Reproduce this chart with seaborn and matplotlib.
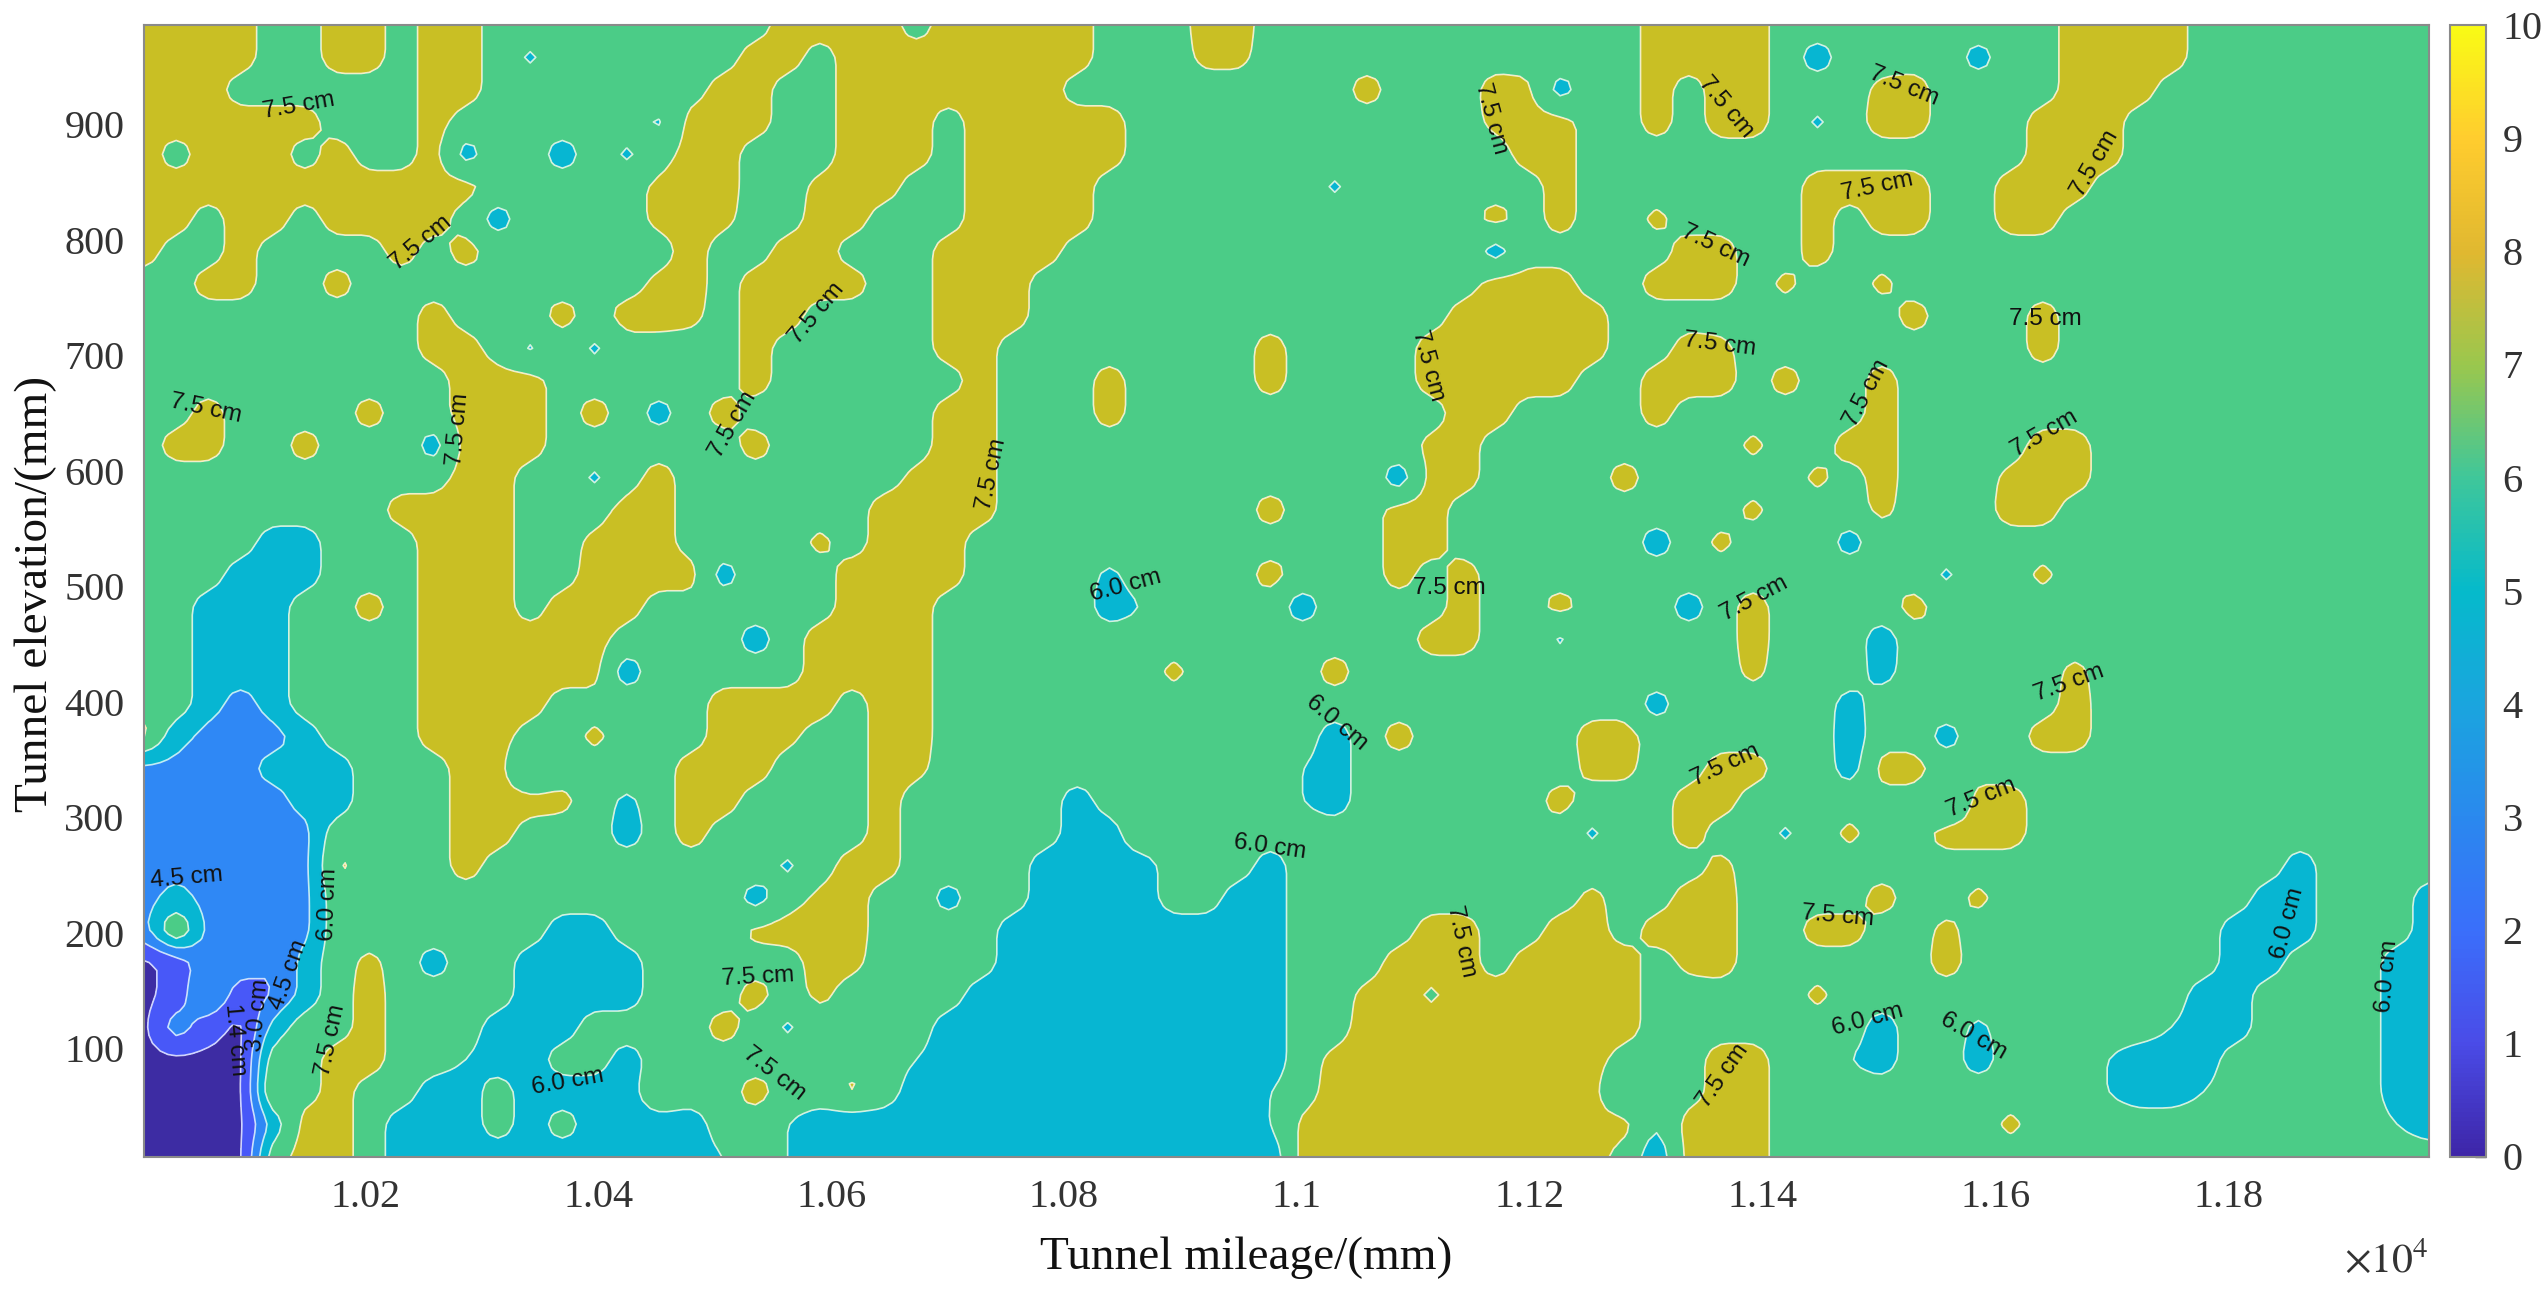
import numpy as np
import matplotlib
matplotlib.use("Agg")
import matplotlib.pyplot as plt
from matplotlib.colors import LinearSegmentedColormap, Normalize
from matplotlib.cm import ScalarMappable
import seaborn as sns

# Thickness grid, top row first, one code per grid node.
# Codes: digits are cm; a, b, c and d mark the small islands.
thickness_rows = [
"8888778878 8777777777 8888788888 7778877777 7777777888 8777777777 8888777777 77",
"8888778878 87a7777778 8788888888 777bb77777 7777777888 8757777c77 8888777777 77",
"8887777778 8777777788 7788888887 7777777787 778bc77878 8777b87777 8887777777 77",
"8888887778 777777a888 7788878888 8777777777 77b8877878 87a7887778 8877777777 77",
"8788878778 c7757a7887 7788878888 8777777777 7778877777 7777777778 8877777777 77",
"8888888888 877777b887 7b88778888 7777777a77 7777877777 7788887788 8777777777 77",
"8878878888 7c7777b8b7 7887778888 7777777777 7787877b77 7787887788 7777777777 77",
"8778777787 8777777877 8877788887 7777777777 77c7777788 7787777777 7777777777 77",
"7788778777 777777b878 8887788877 7777777777 7788877888 7b77b77777 7777777777 77",
"7777777778 7778788b78 8777788877 7777777777 7888887777 7777787778 7777777777 77",
"7777777778 87a7a77778 7777788777 7777787777 888888778b 7777777778 7777777777 77",
"7777777777 8887777778 7777778777 8777787777 8888877888 7877877777 7777777777 77",
"7787777877 888787c787 7777788777 8777777777 7887777877 7777877777 7777777777 77",
"788778777c 8887777778 7777788777 7777777777 b877777777 b778877778 8777777777 77",
"7777777777 8877a78777 7777b88777 7777777775 8877778777 77b78777b8 8777777777 77",
"7777777788 8877788777 7778888777 7777787778 8777777777 b777b77788 7777777777 77",
"7777557778 8877b88777 7b78887777 7777777778 877777757b 777c777777 7777777777 77",
"7775557778 88778888c7 7788887777 a777787778 7877777777 777777a77b 7777777777 77",
"7755577878 8878887777 7788877777 5677775777 7877877757 8777787777 7777777777 77",
"7755577778 8888877775 7888877777 7777777777 8877a77777 8777577777 7777777777 77",
"7755577778 8888857777 7888877777 77b7777877 7777777777 b777c77777 b777777777 77",
"7754577778 8887777788 8878877777 7777777777 7777777c77 777c777777 8777777777 77",
"8544457778 8877b77788 b778877777 7777777578 7777788777 777577c778 8777777777 77",
"4444555777 88a7777888 7778b77777 7777776577 77777bb778 877c887777 7777777777 77",
"4444455777 888b7a7887 7778777775 7777776577 7777877788 777777a887 7777777777 77",
"4444447777 8877757877 7778777775 5b77777777 77777a7787 7a7b778887 7777777777 77",
"444444b777 8777777777 a788777755 5577757777 777777777b 7777777777 7777777577 77",
"4544447777 777777777c 7b877c7755 5577557777 77777b7788 7777877b77 7777775577 75",
"4b44447777 777557777b 8887777555 5555557777 8877887888 778877b777 7777755577 75",
"1244357b75 7755557777 78b7777555 5555557778 88788887b8 7777778777 7777755777 55",
"1252357877 7755557778 7b77775555 55555577b8 d888888777 77b7777777 7777557777 55",
"1421577877 7555777787 a777755555 5555557788 8888888777 7777577a77 7776557777 55",
"1111778877 6557757777 7777655555 5555557b88 8888887778 8776577577 7655577777 55",
"1111b78775 575555b778 77b7555555 5555567888 888888a778 8777777777 7655677777 55",
"1111588755 5757555577 6555555555 555556b888 8888888688 87777777b7 7777777777 65",
"1111788755 5555555567 6555555555 5555558888 8888887588 8777777777 7777777777 77",
]
code_values = {"a": 5.55, "b": 7.8, "c": 5.2, "d": 7.25}

contour_levels = [0, 1.4, 3.0, 4.5, 6.0, 7.5, 10]
fill_colors = ["#3D2CA3", "#4858F8", "#2F88F5", "#07B6D2", "#4BCC87", "#C9BF24"]
parula_stops = ["#3E26A8", "#4A4CE8", "#3A6FFB", "#2A89EE", "#1AA5DE", "#05BACB",
                "#3FC79A", "#9AC74E", "#E0B830", "#FFCC2E", "#F9FB15"]

x_ticks = [10200, 10400, 10600, 10800, 11000, 11200, 11400, 11600, 11800]
x_tick_labels = ["1.02", "1.04", "1.06", "1.08", "1.1", "1.12", "1.14", "1.16", "1.18"]
y_ticks = [100, 200, 300, 400, 500, 600, 700, 800, 900]
cbar_ticks = [0, 1, 2, 3, 4, 5, 6, 7, 8, 9, 10]

label_text = ["7.5 cm"] * 29 + ["6.0 cm"] * 9 + ["4.5 cm", "4.5 cm", "3.0 cm", "1.4 cm"]
label_x = [10143, 10248, 10063, 10280, 10516, 10588, 10738, 11167, 11368, 11521,
           11685, 11498, 11359, 11113, 11363, 11643, 11489, 11642, 11131, 11393,
           11663, 11368, 11588, 11464, 11141, 11366, 10537, 10551, 10170,
           10853, 11034, 10977, 11490, 11581, 11851, 11936, 10374, 10168,
           10047, 10134, 10108, 10088]
label_y = [916, 797, 654, 636, 640, 736, 597, 905, 915, 933,
           866, 846, 795, 691, 709, 731, 667, 632, 498, 489,
           416, 345, 317, 214, 192, 76, 161, 78, 107,
           500, 382, 274, 124, 110, 208, 162, 71, 224,
           247, 163, 128, 107]
label_angle = [10, 40, -12, 85, 60, 50, 78, -75, -50, -22,
               60, 12, -25, -75, -7, 0, 62, 30, 0, 28,
               20, 25, 22, -5, -78, 55, 3, -38, 78,
               15, -40, -8, 15, -30, 75, 85, 10, 88,
               5, 70, 85, -85]

sns.set_theme(style="white")
plt.rcParams["font.family"] = ["Liberation Serif", "DejaVu Serif"]
plt.rcParams["mathtext.fontset"] = "stix"

Z = np.array([[code_values.get(ch, float(ch) if ch.isdigit() else 7.0)
               for ch in row.replace(" ", "")] for row in thickness_rows])
X = np.linspace(10010, 11972, Z.shape[1])
Y = np.linspace(986, 6, Z.shape[0])


def rounded(xs, ys, zs, factor=4):
    """Rendering step only: finer contouring mesh so the outlines come out rounded."""
    fx = np.linspace(xs[0], xs[-1], (len(xs) - 1) * factor + 1)
    fy = np.linspace(ys[0], ys[-1], (len(ys) - 1) * factor + 1)
    ix = np.arange(len(xs))
    iy = np.arange(len(ys))
    jx = np.linspace(0, len(xs) - 1, len(fx))
    jy = np.linspace(0, len(ys) - 1, len(fy))
    a = np.array([np.interp(jx, ix, r) for r in zs])
    a = np.array([np.interp(jy, iy, c) for c in a.T]).T
    kernel = np.array([1, 2, 1], float)
    kernel /= kernel.sum()
    a = np.apply_along_axis(lambda v: np.convolve(np.pad(v, 1, mode="edge"), kernel, "valid"), 0, a)
    a = np.apply_along_axis(lambda v: np.convolve(np.pad(v, 1, mode="edge"), kernel, "valid"), 1, a)
    return fx, fy, a


FX, FY, FZ = rounded(X, Y, Z)

W, H = 2546, 1306
fig = plt.figure(figsize=(W / 100, H / 100), dpi=100, facecolor="white")
ax = fig.add_axes([144 / W, 1 - 1156.5 / H, (2429 - 144) / W, (1156.5 - 25) / H])

ax.contourf(FX, FY, FZ, levels=contour_levels, colors=sns.color_palette(fill_colors))
ax.contour(FX, FY, FZ, levels=contour_levels[1:-1], colors="white", linewidths=1.2, alpha=0.75)
ax.set_xlim(10010, 11972)
ax.set_ylim(6, 986)

ax.set_xticks(x_ticks, x_tick_labels)
ax.set_yticks(y_ticks)
ax.tick_params(axis="both", direction="in", length=16, width=1, color="#444444",
               top=True, right=True, bottom=True, left=True,
               labelsize=29, labelcolor="#333333", pad=16)
ax.tick_params(axis="y", pad=14)
for s in ax.spines.values():
    s.set_color("#8a8a8a")
    s.set_linewidth(1.5)

for t, x, y, a in zip(label_text, label_x, label_y, label_angle):
    ax.text(x, y, t, rotation=a, ha="center", va="center", fontsize=17.5,
            family="Liberation Sans", color="#111111", rotation_mode="anchor")

fig.text(1246 / W, 1 - 1258 / H, "Tunnel mileage/(mm)", ha="center", va="center",
         fontsize=34, color="#111111")
fig.text(36 / W, 1 - 594 / H, "Tunnel elevation/(mm)", ha="center", va="center",
         rotation=90, fontsize=34, color="#111111")
fig.text(2429 / W, 1 - 1262 / H, r"$\times 10^{4}$", ha="right", va="center",
         fontsize=30, color="#333333")

cax = fig.add_axes([2450 / W, 1 - 1156.5 / H, 36 / W, (1156.5 - 25) / H])
cmap = LinearSegmentedColormap.from_list("parula_like", parula_stops)
cb = fig.colorbar(ScalarMappable(Normalize(0, 10), cmap), cax=cax, ticks=cbar_ticks)
cb.ax.tick_params(direction="in", length=8, width=1, color="#444444",
                  labelsize=29, labelcolor="#333333", pad=12)
cb.outline.set_edgecolor("#8a8a8a")
cb.outline.set_linewidth(1.5)

fig.savefig("out.png", dpi=100)
